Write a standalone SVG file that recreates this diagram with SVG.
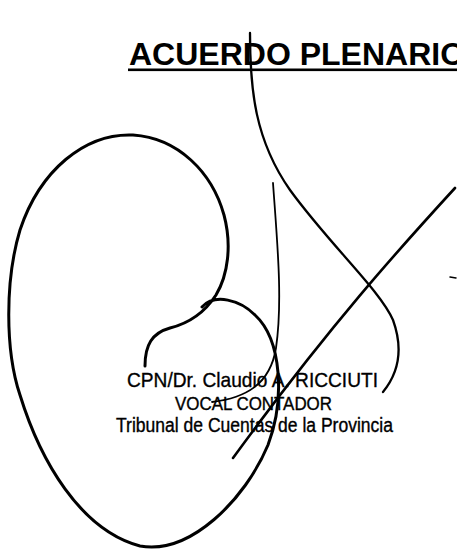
<svg xmlns="http://www.w3.org/2000/svg" width="457" height="549" viewBox="0 0 457 549">
<style>
.ink{fill:none;stroke:#000;stroke-linecap:round;stroke-linejoin:round}
.t{font-family:"Liberation Sans",Arial,Helvetica,sans-serif;fill:#000}
.s{stroke:#000;stroke-width:0.35}
</style>
<rect width="457" height="549" fill="#fff"/>
<g id="title">
<text class="t" x="129" y="65" font-size="32" font-weight="bold">ACUERDO PLENARIO</text>
<rect x="128" y="68.5" width="329" height="2.6" fill="#000"/>
</g>
<g id="signature">
<path class="ink" stroke-width="3" d="M145,366 C145,345 152,333 170,328 C190,323 205,312 216,295 C228,275 232,245 224,215 C212,172 178,138 133,135 C85,133 40,170 20,230 C5,280 5,350 20,395 C40,460 80,530 140,546 C190,555 245,500 268,445 C285,400 282,340 255,315 C240,300 215,293 202,307"/>
<path class="ink" stroke-width="2.3" d="M250,33 C250,90 255,140 290,190 C330,245 380,290 393,320 C402,345 401,370 383,392"/>
<path class="ink" stroke-width="1.8" d="M273,183 C277,240 283,300 276,348 C270,385 245,398 212,402"/>
<path class="ink" stroke-width="2.6" d="M455,188 C400,248 330,325 233,458"/>
<path class="ink" stroke-width="1.5" d="M450,277 L456,278"/>
</g>
<g id="stamp">
<text class="t s" x="127" y="387" font-size="21" textLength="251" lengthAdjust="spacingAndGlyphs">CPN/Dr. Claudio A. RICCIUTI</text>
<text class="t s" x="175" y="409.5" font-size="17.5" textLength="157" lengthAdjust="spacingAndGlyphs">VOCAL CONTADOR</text>
<text class="t s" x="116" y="432" font-size="19.5" textLength="277" lengthAdjust="spacingAndGlyphs">Tribunal de Cuentas de la Provincia</text>
</g>
</svg>
